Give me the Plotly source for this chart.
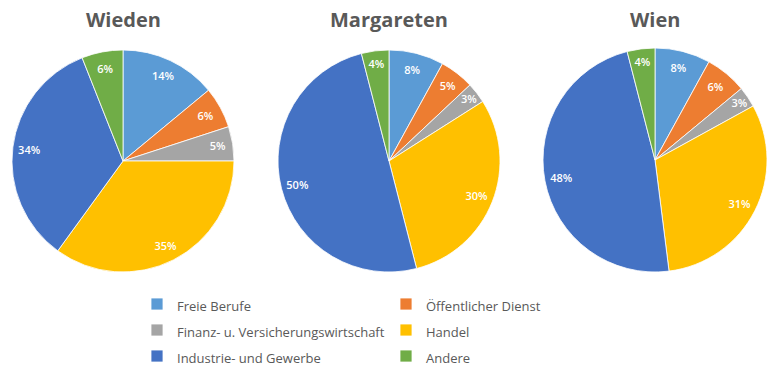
import plotly.graph_objects as go

categories = ["Freie Berufe", "Öffentlicher Dienst", "Finanz- u. Versicherungswirtschaft",
              "Handel", "Industrie- und Gewerbe", "Andere"]
wieden = [14, 6, 5, 35, 34, 6]
margareten = [8, 5, 3, 30, 50, 4]
wien = [8, 6, 3, 31, 48, 4]
titles = ["Wieden", "Margareten", "Wien"]
colors = ["#5B9BD5", "#ED7D31", "#A5A5A5", "#FFC000", "#4472C4", "#70AD47"]

W = 781          # figure width
H = 440          # figure height (only the top 370 px are visible in the window)
LEG_BW = 50      # invisible legend border, used so that the legend wraps after 2 entries


def px_x(x):
    return x / W


def px_y(y):
    return 1 - y / H


# pixel boxes on the page (left, top, right, bottom) for each pie
boxes = [(12, 50, 234, 272), (278, 50, 500, 272), (543, 48, 767, 272)]
legend_labels = ["<span style='font-size:13px'>%s</span>" % c for c in categories]

fig = go.Figure()
for i, (vals, box) in enumerate(zip([wieden, margareten, wien], boxes)):
    l, t, r, b = box
    dom = dict(x=[px_x(l), px_x(r)], y=[px_y(b), px_y(t)])
    fig.add_trace(go.Pie(
        labels=legend_labels, values=vals, sort=False, direction="clockwise", rotation=0,
        marker=dict(colors=colors, line=dict(color="white", width=0.8)),
        textinfo="none", domain=dom,
        showlegend=(i == 0), name=titles[i],
        customdata=categories, hovertemplate="%{customdata}: %{percent:.0%}<extra></extra>",
    ))
    # ring overlay that carries the percentage labels near the rim
    fig.add_trace(go.Pie(
        labels=categories, values=vals, sort=False, direction="clockwise", rotation=0,
        hole=0.7, marker=dict(colors=["rgba(0,0,0,0)"] * len(vals), line=dict(width=0)),
        texttemplate="%{percent:.0%}", textposition="inside",
        insidetextorientation="horizontal",
        textfont=dict(color="white", size=11, family="Open Sans", weight=600),
        domain=dom, showlegend=False, hoverinfo="skip",
    ))
    fig.add_annotation(text="<b>%s</b>" % titles[i], x=(px_x(l) + px_x(r)) / 2, y=px_y(19),
                       xref="paper", yref="paper", showarrow=False,
                       font=dict(size=20, color="#595959", family="Open Sans"),
                       xanchor="center", yanchor="middle")

fig.update_layout(
    width=W, height=H, margin=dict(l=0, r=0, t=0, b=0),
    paper_bgcolor="white", plot_bgcolor="white",
    uniformtext=dict(minsize=11, mode="show"),
    legend=dict(orientation="h", x=px_x(87), y=px_y(304 - 18 - LEG_BW),
                xanchor="left", yanchor="top",
                entrywidth=204, entrywidthmode="pixels",
                borderwidth=LEG_BW, bordercolor="rgba(0,0,0,0)", bgcolor="rgba(0,0,0,0)",
                font=dict(size=17.7, color="#595959", family="Open Sans"),
                traceorder="normal"),
)
fig.write_html("out.html", config={"displayModeBar": False},
               post_script="document.body.style.margin='0';")
